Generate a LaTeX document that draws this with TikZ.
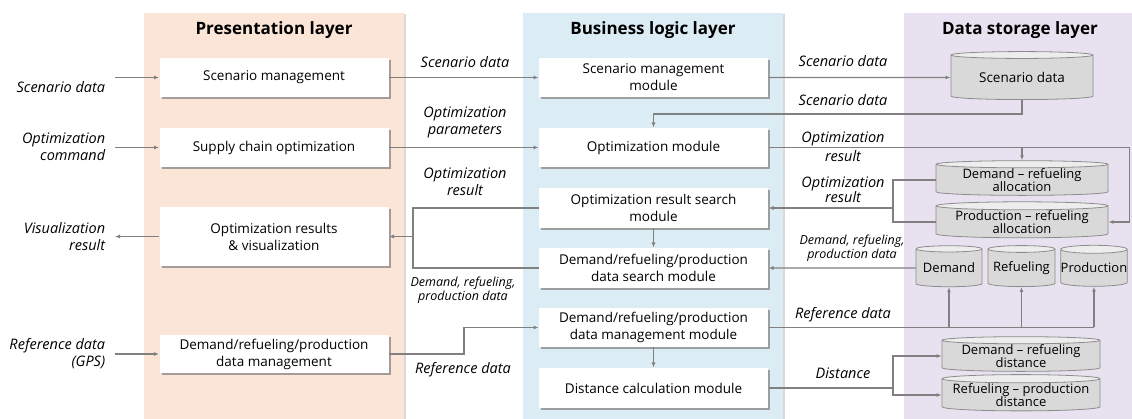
\documentclass[tikz,border=0pt]{standalone}
\usepackage{fontspec}
\setmainfont{Open Sans}
\usetikzlibrary{shapes.geometric,shadows,arrows.meta}

\definecolor{presfill}{RGB}{251,229,214}
\definecolor{busfill}{RGB}{220,236,244}
\definecolor{datafill}{RGB}{232,226,240}
\definecolor{wirecol}{RGB}{128,128,128}

\tikzset{every picture/.style={line width=1pt}}

\begin{document}
\begin{tikzpicture}[x=1pt,y=1pt,yscale=-1,xscale=1,
  panel/.style={drop shadow={shadow xshift=2pt,shadow yshift=-1pt,fill=black!25,opacity=0.6}},
  laytitle/.style={font=\bfseries\fontsize{17}{19}\selectfont},
  modbox/.style={fill=white,minimum width=229pt,minimum height=39pt,inner sep=1pt,align=center,
    font=\fontsize{13.5}{17}\selectfont,
    drop shadow={shadow xshift=2pt,shadow yshift=-2pt,fill=black!45,opacity=0.8}},
  store/.style={cylinder,shape border rotate=90,aspect=0.06,draw=black!45,line width=0.8pt,
    cylinder uses custom fill,cylinder body fill=black!15,cylinder end fill=black!7,
    inner xsep=0pt,inner ysep=0pt,align=center,font=\fontsize{13}{13.5}\selectfont},
  wire/.style={draw=wirecol,line width=1.1pt},
  flow/.style={wire,-{Latex[length=5pt,width=4pt]}},
  lbl/.style={font=\itshape\fontsize{14.5}{17}\selectfont,align=center},
  smlbl/.style={font=\itshape\fontsize{12.5}{14.5}\selectfont,align=center}]

\useasboundingbox (0,0) rectangle (1132,419);

%Layers
\path[fill=presfill,panel] (144,13) rectangle (404,440);
\path[fill=busfill,panel] (523,13) rectangle (783,440);
\path[fill=datafill] (904,13) rectangle (1140,440);

\node[laytitle] (prestitle) at (274,30) {Presentation layer};
\node[laytitle] (bustitle) at (653,30) {Business logic layer};
\node[laytitle] (datatitle) at (1020,30) {Data storage layer};

%Presentation layer
\node[modbox] (scnmgmt) at (274,77.5) {Scenario management};
\node[modbox] (scopt) at (274,147.5) {Supply chain optimization};
\node[modbox,minimum height=59pt] (optvis) at (274,236.5) {Optimization results\\\& visualization};
\node[modbox,minimum height=38pt] (refmgmt) at (274,354) {Demand/refueling/production\\data management};

%Business logic layer
\node[modbox] (scnmod) at (653.5,77.5) {Scenario management\\module};
\node[modbox] (optmod) at (653.5,147.5) {Optimization module};
\node[modbox,minimum height=40pt] (resmod) at (653.5,208) {Optimization result search\\module};
\node[modbox,minimum height=40pt] (srchmod) at (653.5,268) {Demand/refueling/production\\data search module};
\node[modbox] (mgmtmod) at (653.5,327.5) {Demand/refueling/production\\data management module};
\node[modbox,minimum height=40pt] (distmod) at (653.5,388) {Distance calculation module};

%Data storage layer
\node[store,aspect=0.08,minimum width=142pt,minimum height=48pt,font=\fontsize{13.5}{15}\selectfont] (scndb) at (1022,77.5) {Scenario data};
\node[store,minimum width=172pt,minimum height=34pt] (dralloc) at (1022,180) {Demand -- refueling\\allocation};
\node[store,minimum width=172pt,minimum height=32pt] (pralloc) at (1022,222) {Production -- refueling\\allocation};
\node[store,aspect=0.12,minimum width=66pt,minimum height=41pt] (demdb) at (949,268) {Demand};
\node[store,aspect=0.12,minimum width=67pt,minimum height=41pt] (refdb) at (1021.5,268) {Refueling};
\node[store,aspect=0.12,minimum width=66pt,minimum height=41pt] (prodb) at (1094,268) {Production};
\node[store,minimum width=158pt,minimum height=32pt] (drdist) at (1021,356) {Demand -- refueling\\distance};
\node[store,minimum width=158pt,minimum height=34pt] (rpdist) at (1021,395) {Refueling -- production\\distance};

%Inputs and outputs
\coordinate (inscn) at (115,77.5);
\coordinate (incmd) at (115,147.5);
\coordinate (outvis) at (115,236.5);
\coordinate (ingps) at (115,354);
\draw[flow] (inscn) -- (scnmgmt.west);
\draw[flow] (incmd) -- (scopt.west);
\draw[flow] (optvis.west) -- (outvis);
\draw[flow] (ingps) -- (refmgmt.west);

%Presentation <-> business
\coordinate (jleft) at (413,236.5);
\draw[flow] (scnmgmt.east) -- (scnmod.west);
\draw[flow] (scopt.east) -- (optmod.west);
\draw[wire] (resmod.west) -| (jleft) |- (srchmod.west);
\draw[flow] (jleft) -- (optvis.east);
\draw[flow] (refmgmt.east) -- ++(75,0) |- (mgmtmod.west);
\draw[flow] (resmod.south) -- (srchmod.north);
\draw[flow] (mgmtmod.south) -- (distmod.north);

%Business <-> data storage
\coordinate (jstore) at (893,208);
\coordinate (jref) at (1094,327.5);
\coordinate (jdist) at (893,388);
\draw[flow] (scnmod.east) -- (scndb.west);
\draw[flow] (scndb.south) -- ++(0,14) -| (optmod.north);
\draw[flow] (optmod.east) -- ++(361,0) |- (pralloc.east);
\draw[flow] (dralloc.north |- optmod.east) -- (dralloc.north);
\draw[wire] (dralloc.west) -| (jstore) |- (pralloc.west);
\draw[flow] (jstore) -- (resmod.east);
\draw[flow] (demdb.west) -- (srchmod.east);
\draw[wire] (mgmtmod.east) -- (jref);
\foreach \db in {demdb,refdb,prodb}
  \draw[flow] (\db.south |- jref) -- (\db.south);
\draw[wire] (distmod.east) -- (jdist);
\draw[flow] (jdist) |- (drdist.west);
\draw[flow] (jdist) |- (rpdist.west);

%Labels
\node[lbl,anchor=east,align=right] (lscn) at (109,87) {Scenario data};
\node[lbl,anchor=east,align=right] (lcmd) at (109,147) {Optimization\\command};
\node[lbl,anchor=east,align=right] (lvis) at (109,237) {Visualization\\result};
\node[lbl,anchor=east,align=right] (lgps) at (109,354) {Reference data\\(GPS)};
\node[lbl] (lscn2) at (465,62) {Scenario data};
\node[lbl] (lpar) at (465,122) {Optimization\\parameters};
\node[lbl] (lres) at (465,182) {Optimization\\result};
\node[smlbl] (ldat) at (463,290) {Demand, refueling,\\production data};
\node[lbl] (lref) at (463,370) {Reference data};
\node[lbl] (lscn3) at (843,61) {Scenario data};
\node[lbl] (lscn4) at (843,100) {Scenario data};
\node[lbl,font=\itshape\fontsize{14.5}{19}\selectfont] (lres2) at (843,147) {Optimization\\result};
\node[lbl,font=\itshape\fontsize{14.5}{15}\selectfont] (lres3) at (843,190) {Optimization\\result};
\node[smlbl] (ldat2) at (852,248) {Demand, refueling,\\production data};
\node[lbl] (lref2) at (843,315) {Reference data};
\node[lbl] (ldist) at (843,373) {Distance};

\end{tikzpicture}
\end{document}
